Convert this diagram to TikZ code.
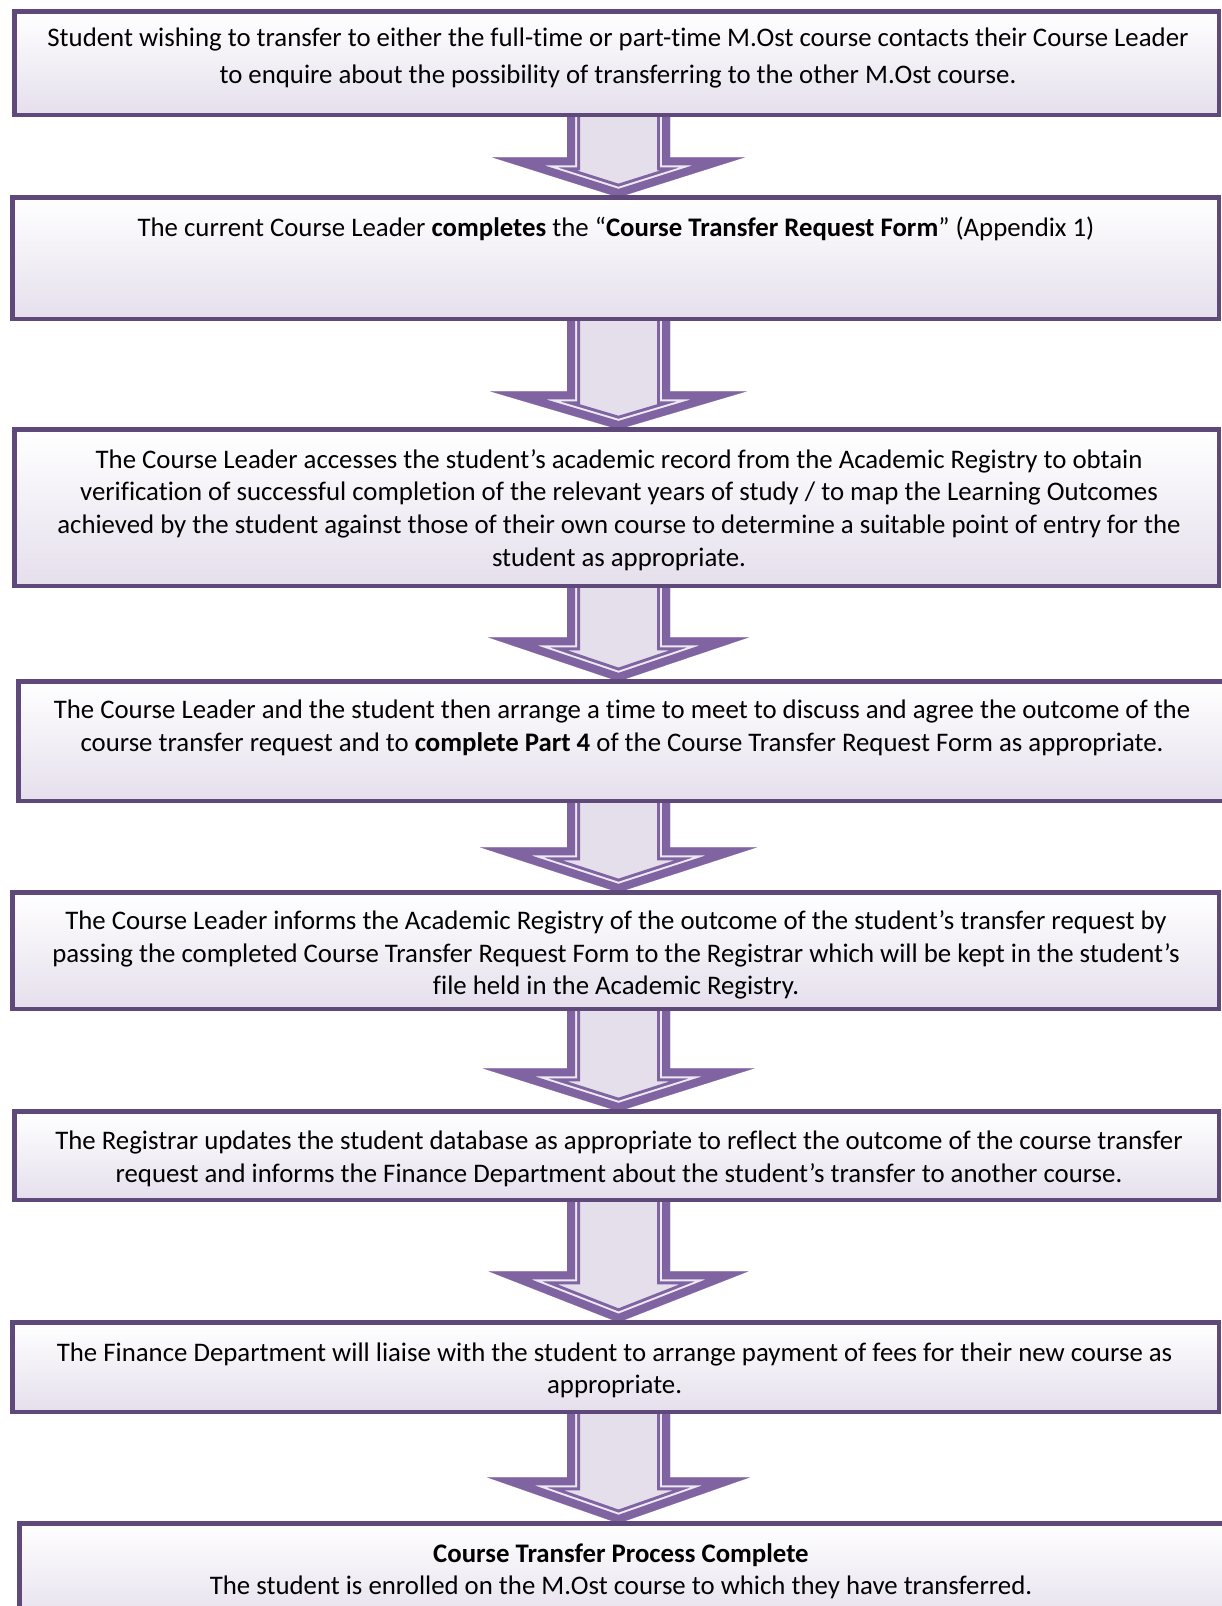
\documentclass[tikz,border=0pt]{standalone}
\usepackage{fontspec}
\setmainfont{Carlito}[Ligatures=CommonOff]
\usetikzlibrary{calc,backgrounds}
\pgfdeclarelayer{back}
\pgfsetlayers{back,background,main}
\definecolor{bord}{HTML}{5F497A}
\definecolor{apurp}{HTML}{8064A2}
\definecolor{lav}{HTML}{E5DFEC}
\definecolor{lavline}{HTML}{EDE8F3}
\newcommand\flowarrow[4]{% upper node, lower node, head height, head half-width
  \coordinate (ar-a) at ($(#1.south -| sl)+(0,-20)$);
  \coordinate (ar-b) at ($(#2.north -| sl)+(0,-#3)$);
  \coordinate (ar-c) at ($(#2.north -| ac)+(-#4,-#3)$);
  \coordinate (ar-d) at (#2.north -| ac);
  \coordinate (ar-e) at ($(#2.north -| ac)+(#4,-#3)$);
  \coordinate (ar-f) at ($(#2.north -| sr)+(0,-#3)$);
  \coordinate (ar-g) at ($(#1.south -| sr)+(0,-20)$);
  \begin{scope}
    \clip (ar-a)--(ar-b)--(ar-c)--(ar-d)--(ar-e)--(ar-f)--(ar-g)--cycle;
    \fill[lav] (ar-a)--(ar-b)--(ar-c)--(ar-d)--(ar-e)--(ar-f)--(ar-g)--cycle;
    \draw[apurp, line width=26pt, miter limit=20] (ar-a)--(ar-b)--(ar-c)--(ar-d)--(ar-e)--(ar-f)--(ar-g)--cycle;
    \draw[lavline, line width=20pt, miter limit=20] (ar-a)--(ar-b)--(ar-c)--(ar-d)--(ar-e)--(ar-f)--(ar-g)--cycle;
    \draw[apurp, line width=16pt, miter limit=20] (ar-a)--(ar-b)--(ar-c)--(ar-d)--(ar-e)--(ar-f)--(ar-g)--cycle;
  \end{scope}}
\begin{document}
\begin{tikzpicture}[x=1pt,y=-1pt,
  box/.style={draw=bord, line width=4.5pt, top color=white, bottom color=lav,
    rectangle, inner sep=0pt, outer sep=0pt, anchor=north west},
  txt/.style={align=center, inner sep=0pt, text=black},
  fs/.style={font=\fontsize{26.8pt}{#1}\selectfont}]
\useasboundingbox (0,0) rectangle (1222,1606);
\begin{pgfonlayer}{back}
\fill[white] (0,0) rectangle (1222,1606);
\end{pgfonlayer}
\coordinate (sl) at (567,0);
\coordinate (sr) at (670,0);
\coordinate (ac) at (618.5,0);

\node[box, minimum width=1204.5pt, minimum height=103.5pt] (b1) at (14.25,11.25) {};
\node[box, minimum width=1206.5pt, minimum height=121.5pt] (b2) at (12.25,197.25) {};
\node[box, minimum width=1204.5pt, minimum height=156.5pt] (b3) at (14.25,429.25) {};
\node[box, minimum width=1211.5pt, minimum height=119.5pt] (b4) at (18.25,681.25) {};
\node[box, minimum width=1206.5pt, minimum height=116.5pt] (b5) at (12.25,892.25) {};
\node[box, minimum width=1204.5pt, minimum height=88.5pt] (b6) at (14.25,1111.25) {};
\node[box, minimum width=1206.5pt, minimum height=89.5pt] (b7) at (12.25,1322.25) {};
\node[box, minimum width=1210.5pt, minimum height=100pt] (b8) at (19.25,1523.25) {};

\begin{pgfonlayer}{background}
\flowarrow{b1}{b2}{40}{126.5}
\flowarrow{b2}{b3}{38}{128.5}
\flowarrow{b3}{b4}{44}{130.5}
\flowarrow{b4}{b5}{45}{138.5}
\flowarrow{b5}{b6}{43}{136}
\flowarrow{b6}{b7}{51}{130}
\flowarrow{b7}{b8}{46}{131.5}
\end{pgfonlayer}

\node[txt, fs=37pt] (t1) at (618,58) {Student wishing to transfer to either the full-time or part-time M.Ost course contacts their Course Leader\\to enquire about the possibility of transferring to the other M.Ost course.};
\node[txt, fs=33pt] (t2) at (616,229) {The current Course Leader \textbf{completes} the “\textbf{Course Transfer Request Form}” (Appendix 1)};
\node[txt, fs=32.8pt] (t3) at (619,510) {The Course Leader accesses the student’s academic record from the Academic Registry to obtain\\verification of successful completion of the relevant years of study / to map the Learning Outcomes\\achieved by the student against those of their own course to determine a suitable point of entry for the\\student as appropriate.};
\node[txt, fs=33pt] (t4) at (622,728) {The Course Leader and the student then arrange a time to meet to discuss and agree the outcome of the\\course transfer request and to \textbf{complete Part 4} of the Course Transfer Request Form as appropriate.};
\begin{scope}
\clip (b5.south west) rectangle (b5.north east);
\node[txt, fs=32.5pt] (t5) at (616,955) {The Course Leader informs the Academic Registry of the outcome of the student’s transfer request by\\passing the completed Course Transfer Request Form to the Registrar which will be kept in the student’s\\file held in the Academic Registry.};
\end{scope}
\node[txt, fs=33pt] (t6) at (619,1159) {The Registrar updates the student database as appropriate to reflect the outcome of the course transfer\\request and informs the Finance Department about the student’s transfer to another course.};
\node[txt, fs=32pt] (t7) at (614.6,1370) {The Finance Department will liaise with the student to arrange payment of fees for their new course as\\appropriate.};
\node[txt, fs=32pt] (t8) at (621,1571) {\textbf{Course Transfer Process Complete}\\The student is enrolled on the M.Ost course to which they have transferred.};
\end{tikzpicture}
\end{document}
